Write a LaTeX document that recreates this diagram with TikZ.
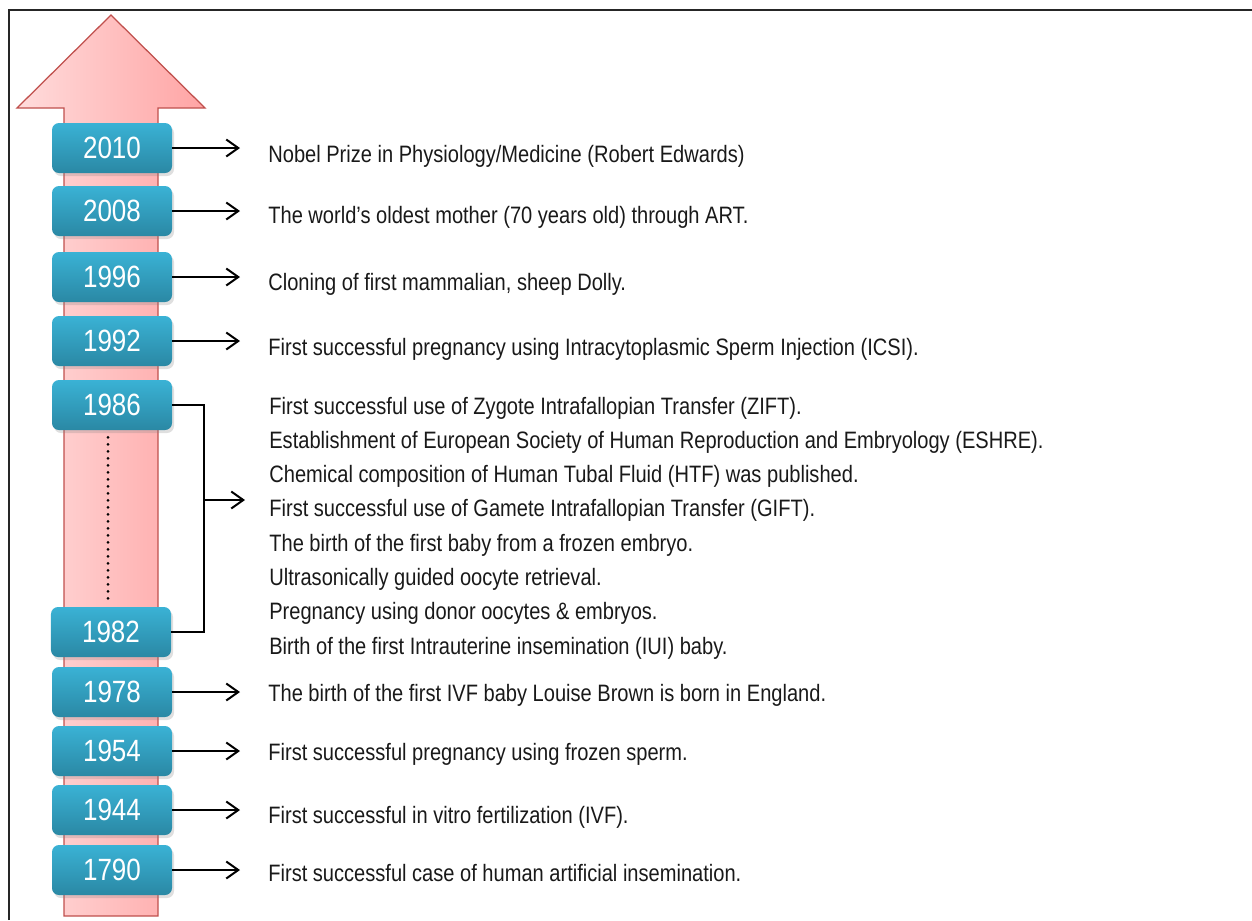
\documentclass[tikz,border=0pt]{standalone}
\usepackage{fontspec}
\setmainfont{Liberation Sans}[FakeStretch=0.846]
\usetikzlibrary{arrows.meta, shadows}

\definecolor{boxtop}{HTML}{3AB2D5}
\definecolor{boxbot}{HTML}{2A88A4}
\definecolor{shaftleft}{HTML}{FFDCDC}
\definecolor{shaftright}{HTML}{FFA4A4}
\definecolor{shaftedge}{HTML}{C0504D}

\begin{document}
\begin{tikzpicture}[
        x=0.2mm, y=-0.2mm,
        % --- Styles for the nodes ---
        year/.style={
            rectangle, rounded corners=1.4mm, minimum width=24mm, minimum height=10mm,
            top color=boxtop, bottom color=boxbot, text=white,
            font=\fontsize{17.5}{20}\selectfont,
            drop shadow={opacity=0.25, shadow xshift=0.4mm, shadow yshift=-0.6mm}
        },
        event/.style={anchor=base west, inner sep=0pt, text=black!90, font=\fontsize{13.5}{16}\selectfont},
        pointer/.style={-{Straight Barb[length=2.4mm, width=3.4mm]}, line width=0.4mm}
    ]

    \useasboundingbox (0,0) rectangle (1252,920);

    % --- Frame ---
    \draw[line width=0.5mm, black!85] (9,920) -- (9,10) -- (1252,10);

    % --- Big time arrow ---
    \draw[shaftedge, line width=0.25mm, left color=shaftleft, right color=shaftright]
        (64,916) -- (64,108) -- (17,108) -- (111,15) -- (205,108) -- (158,108) -- (158,916) -- cycle;

    % --- Single years with their events ---
    \foreach \yr/\yy/\base/\desc in {
        2010/148/162/{Nobel Prize in Physiology/Medicine (Robert Edwards)},
        2008/211/223/{The world’s oldest mother (70 years old) through ART.},
        1996/277/290/{Cloning of first mammalian, sheep Dolly.},
        1992/341/355/{First successful pregnancy using Intracytoplasmic Sperm Injection (ICSI).},
        1978/692/701/{The birth of the first IVF baby Louise Brown is born in England.},
        1954/751/760/{First successful pregnancy using frozen sperm.},
        1944/810/823/{First successful in vitro fertilization (IVF).},
        1790/870/881/{First successful case of human artificial insemination.}} {
        \node[year] (box\yr) at (112,\yy) {\yr};
        \coordinate (tip\yr) at (240,\yy);
        \node[event] (txt\yr) at (268,\base) {\desc};
        \draw[pointer] (box\yr.east) -- (tip\yr);
    }

    % --- The 1982--1986 span ---
    \node[year] (box1986) at (112,405) {1986};
    \node[year] (box1982) at (111,632) {1982};
    \draw[line width=0.6mm, line cap=round, dash pattern=on 0pt off 1.4mm]
        ([xshift=-0.8mm, yshift=-1.4mm]box1986.south) -- ([xshift=-0.6mm, yshift=0.4mm]box1982.north);

    \coordinate (brk) at (204,500);
    \coordinate (tipspan) at (245,500);
    \draw[line width=0.4mm] (box1986.east) -| (brk) |- (box1982.east);
    \draw[pointer] (brk) -- (tipspan);

    \foreach \desc [count=\i from 0] in {
        First successful use of Zygote Intrafallopian Transfer (ZIFT).,
        Establishment of European Society of Human Reproduction and Embryology (ESHRE).,
        Chemical composition of Human Tubal Fluid (HTF) was published.,
        First successful use of Gamete Intrafallopian Transfer (GIFT).,
        The birth of the first baby from a frozen embryo.,
        Ultrasonically guided oocyte retrieval.,
        Pregnancy using donor oocytes \& embryos.,
        Birth of the first Intrauterine insemination (IUI) baby.} {
        \node[event] (span\i) at (269,414+34.3*\i) {\desc};
    }

\end{tikzpicture}
\end{document}
